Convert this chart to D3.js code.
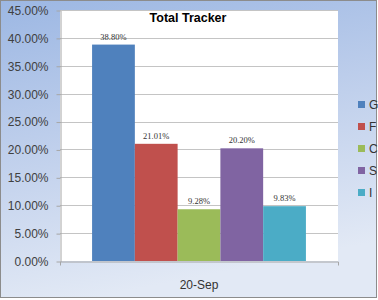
<!DOCTYPE html>
<html>
<head>
<meta charset="utf-8">
<script src="https://cdn.jsdelivr.net/npm/d3@7"></script>
<style>
body { margin: 0; background: #fff; }
</style>
</head>
<body>
<svg width="378" height="300" font-family="'Liberation Sans', Arial, sans-serif"></svg>
<script>
var series = ['G', 'F', 'C', 'S', 'I'];
var values = [0.388, 0.2101, 0.0928, 0.202, 0.0983];
var colors = ['#4f81bd', '#c0504d', '#9bbb59', '#8064a2', '#4bacc6'];
var categories = ['20-Sep'];
var yTicks = [0, 0.05, 0.10, 0.15, 0.20, 0.25, 0.30, 0.35, 0.40, 0.45];

var svgWidth = 378;
var svgHeight = 300;
var plotLeft = 60, plotRight = 338, plotTop = 10, plotBottom = 261;

var svg = d3.select('svg');

var defs = svg.append('defs');
var grad = defs.append('linearGradient')
	.attr('id', 'bg')
	.attr('x1', 0).attr('y1', 0)
	.attr('x2', 0.25).attr('y2', 1);
grad.append('stop').attr('offset', '0').attr('stop-color', '#9cb7e3');
grad.append('stop').attr('offset', '0.45').attr('stop-color', '#bccdeb');
grad.append('stop').attr('offset', '1').attr('stop-color', '#e2e9f5');

svg.append('rect')
	.attr('x', 0.5).attr('y', 0.5)
	.attr('width', 376).attr('height', 297)
	.attr('fill', 'url(#bg)')
	.attr('stroke', '#8c8c8c');

svg.append('rect')
	.attr('x', plotLeft).attr('y', plotTop)
	.attr('width', plotRight - plotLeft).attr('height', plotBottom - plotTop)
	.attr('fill', '#fff');

var yScale = d3.scaleLinear()
	.domain([0, 0.45])
	.range([plotBottom, plotTop]);

var xScale = d3.scaleBand()
	.domain(categories)
	.range([plotLeft, plotRight])
	.paddingInner(0)
	.paddingOuter(0.15);

var sScale = d3.scaleBand()
	.domain(series)
	.range([0, xScale.bandwidth()]);

// gridlines
svg.append('g')
	.selectAll('line')
	.data(yTicks.slice(1))
	.enter()
	.append('line')
	.attr('x1', plotLeft).attr('x2', plotRight)
	.attr('y1', d => Math.round(yScale(d)) + 0.5)
	.attr('y2', d => Math.round(yScale(d)) + 0.5)
	.attr('stroke', '#c4c4c4');

var yAxis = d3.axisLeft(yScale)
	.tickValues(yTicks)
	.tickFormat(d3.format('.2%'))
	.tickSize(4)
	.tickSizeOuter(0)
	.tickPadding(8);

var yG = svg.append('g')
	.attr('transform', `translate(${plotLeft + 0.5},0.5)`)
	.call(yAxis);
yG.select('.domain').attr('stroke', '#a6a6a6');
yG.selectAll('line').attr('stroke', '#a6a6a6');
yG.attr('font-family', null);
yG.selectAll('text')
	.attr('font-size', 12)
	.attr('fill', '#404040');

var xAxis = d3.axisBottom(xScale)
	.tickSize(0)
	.tickSizeOuter(4)
	.tickPadding(19);

var xG = svg.append('g')
	.attr('transform', `translate(0,${plotBottom + 0.5})`)
	.call(xAxis);
xG.attr('font-family', null);
xG.select('.domain').attr('stroke', '#a6a6a6');
xG.selectAll('text')
	.attr('font-size', 12)
	.attr('fill', '#333');

var bars = svg.append('g');
series.forEach(function(s, i) {
	var x0 = xScale(categories[0]) + sScale(s);
	bars.append('rect')
		.attr('x', x0)
		.attr('y', yScale(values[i]))
		.attr('width', sScale.bandwidth())
		.attr('height', yScale(0) - yScale(values[i]))
		.attr('fill', colors[i]);
	bars.append('text')
		.attr('x', x0 + sScale.bandwidth() / 2)
		.attr('y', yScale(values[i]) - 5)
		.attr('text-anchor', 'middle')
		.attr('font-family', '"Liberation Serif", "Times New Roman", serif')
		.attr('font-size', 8.5)
		.attr('fill', '#333')
		.text(d3.format('.2%')(values[i]));
});

svg.append('text')
	.attr('x', 188)
	.attr('y', 22)
	.attr('text-anchor', 'middle')
	.attr('font-size', 12.5)
	.attr('font-weight', 'bold')
	.attr('fill', '#000')
	.text('Total Tracker');

var legend = svg.append('g')
	.selectAll('g')
	.data(series)
	.enter()
	.append('g')
	.attr('transform', (d, i) => `translate(358,${101 + i * 22})`);
legend.append('rect')
	.attr('width', 7).attr('height', 7)
	.attr('fill', (d, i) => colors[i]);
legend.append('text')
	.attr('x', 11)
	.attr('y', 8)
	.attr('font-size', 12)
	.attr('fill', '#333')
	.text(d => d);
</script>
</body>
</html>
